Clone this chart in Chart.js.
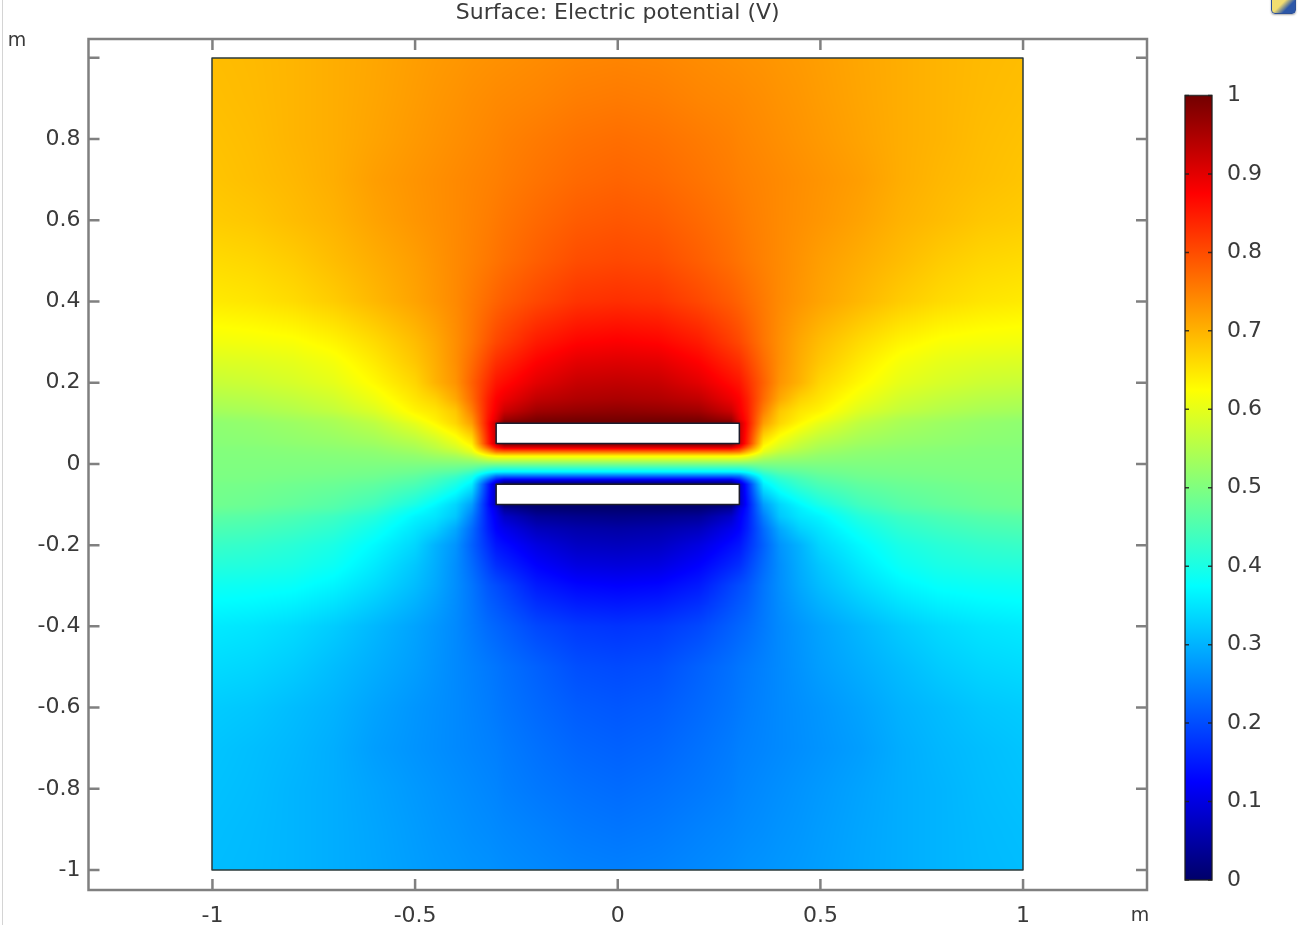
<!DOCTYPE html>
<html><head><meta charset="utf-8">
<style>
html,body{margin:0;padding:0;background:#fff;width:1307px;height:925px;overflow:hidden}
#main{position:absolute;left:0;top:0}
#bar{position:absolute;left:1150px;top:0}
#edge{position:absolute;left:2px;top:0;width:1px;height:925px;background:#d4d4d4}
#icon{position:absolute;left:1271px;top:-6px;width:23px;height:18px;border-radius:4px;background:linear-gradient(135deg,#f2dd70 0%,#f2dd70 45%,#2c57a8 70%);border:1px solid #2c4f96;box-shadow:0 1px 2px #aaa}
</style>
<script src="https://cdn.jsdelivr.net/npm/chart.js@4"></script>
</head><body>
<div id="edge"></div><div id="icon"></div>
<canvas id="main" width="1307" height="925"></canvas>
<canvas id="bar" width="157" height="925"></canvas>
<script>
const titleText = 'Surface: Electric potential (V)';
const unitLabel = 'm';
const xTicks = [-1,-0.5,0,0.5,1];
const yTicks = [-1,-0.8,-0.6,-0.4,-0.2,0,0.2,0.4,0.6,0.8];
const frameTicksY = [-1,-0.8,-0.6,-0.4,-0.2,0,0.2,0.4,0.6,0.8,1];
const barTicks = [0,0.1,0.2,0.3,0.4,0.5,0.6,0.7,0.8,0.9,1];
// sampled |x| positions (the picture is mirror-symmetric about x = 0)
const gridX = [0,0.1,0.2,0.28,0.3,0.32,0.36,0.4,0.45,0.5,0.6,0.7,0.8,0.9,1];
const gridYUpper = [1,0.9,0.8,0.7,0.6,0.5,0.4,0.3,0.25,0.2,0.16,0.13,0.11,0.1,0.05,0.04,0.03,0.02,0.01,0];
const potentialUpper = [
[.745,.743,.738,.734,.733,.732,.73,.727,.724,.72,.712,.705,.698,.693,.69],
[.755,.752,.745,.741,.74,.738,.735,.731,.727,.722,.713,.705,.698,.692,.688],
[.767,.763,.755,.748,.745,.743,.739,.735,.73,.725,.715,.705,.698,.69,.685],
[.777,.772,.762,.753,.75,.748,.744,.74,.735,.73,.72,.705,.695,.688,.682],
[.79,.785,.772,.76,.756,.752,.746,.74,.734,.728,.715,.70,.69,.68,.675],
[.805,.80,.783,.767,.762,.757,.748,.74,.73,.72,.705,.69,.675,.665,.66],
[.83,.825,.805,.785,.778,.77,.755,.74,.727,.715,.695,.675,.66,.65,.645],
[.878,.872,.85,.815,.805,.79,.76,.735,.71,.69,.66,.635,.62,.615,.612],
[.905,.9,.875,.84,.83,.81,.77,.735,.705,.68,.645,.615,.60,.593,.59],
[.93,.925,.90,.865,.855,.83,.78,.73,.70,.665,.63,.60,.585,.575,.57],
[.95,.945,.93,.89,.875,.845,.77,.71,.67,.65,.61,.58,.565,.555,.55],
[.975,.97,.96,.92,.885,.85,.75,.68,.65,.635,.59,.565,.55,.54,.535],
[.995,.995,.99,.96,.90,.855,.73,.67,.64,.615,.57,.545,.535,.525,.52],
[1,1,1,1,.93,.86,.72,.665,.63,.60,.56,.54,.528,.52,.515],
[1,1,1,1,.93,.84,.64,.60,.57,.55,.53,.52,.515,.51,.508],
[.90,.90,.90,.90,.86,.78,.62,.585,.56,.54,.522,.515,.51,.506,.505],
[.77,.77,.77,.77,.76,.70,.60,.565,.545,.53,.515,.51,.507,.504,.503],
[.64,.64,.64,.64,.635,.62,.565,.54,.53,.518,.51,.506,.504,.503,.502],
[.57,.57,.57,.57,.57,.56,.53,.52,.515,.51,.505,.503,.502,.501,.501],
[.5,.5,.5,.5,.5,.5,.5,.5,.5,.5,.5,.5,.5,.5,.5]
];
const gridYLower = [-0.01,-0.02,-0.03,-0.04,-0.05,-0.1,-0.11,-0.13,-0.16,-0.2,-0.25,-0.3,-0.4,-0.5,-0.6,-0.7,-0.8,-0.9,-1];
const potentialLower = [
[.43,.43,.43,.43,.43,.44,.47,.48,.485,.49,.495,.497,.498,.499,.499],
[.36,.36,.36,.36,.365,.38,.435,.46,.47,.482,.49,.494,.496,.497,.498],
[.23,.23,.23,.23,.24,.30,.40,.435,.455,.47,.485,.49,.493,.496,.497],
[.10,.10,.10,.10,.14,.22,.38,.415,.44,.46,.478,.485,.49,.494,.495],
[0,0,0,0,.07,.16,.36,.40,.43,.45,.47,.48,.485,.49,.492],
[0,0,0,0,.07,.14,.28,.335,.37,.40,.44,.46,.472,.48,.485],
[.005,.005,.01,.04,.10,.145,.27,.33,.36,.385,.43,.455,.465,.475,.48],
[.025,.03,.04,.08,.115,.15,.25,.32,.35,.365,.41,.435,.45,.46,.465],
[.05,.055,.07,.11,.125,.155,.23,.29,.33,.35,.39,.42,.435,.445,.45],
[.07,.075,.10,.135,.145,.17,.22,.27,.30,.335,.37,.40,.415,.425,.43],
[.095,.10,.125,.16,.17,.19,.23,.265,.295,.32,.355,.385,.40,.407,.41],
[.125,.13,.15,.19,.20,.21,.24,.265,.29,.31,.34,.365,.38,.385,.388],
[.175,.18,.195,.218,.224,.23,.245,.26,.273,.285,.305,.325,.34,.35,.355],
[.197,.202,.22,.235,.24,.244,.252,.26,.27,.28,.295,.31,.325,.335,.34],
[.21,.215,.228,.24,.244,.248,.254,.26,.266,.272,.285,.30,.31,.32,.325],
[.22,.225,.236,.246,.25,.252,.256,.26,.265,.27,.28,.295,.305,.312,.318],
[.23,.235,.243,.251,.255,.257,.261,.265,.27,.275,.285,.295,.302,.31,.315],
[.24,.244,.252,.258,.26,.262,.265,.269,.273,.278,.287,.295,.302,.308,.312],
[.25,.253,.259,.264,.266,.268,.27,.273,.276,.28,.288,.295,.302,.307,.31]
];
const plateXs = [-0.3,0.3];
const plateTopYs = [0.05,0.1];
const plateBottomYs = [-0.1,-0.05];
const colorStops = [0,0.125,0.375,0.625,0.875,1];
const colorReds = [0,0,0,255,255,115];
const colorGreens = [0,0,255,255,0,0];
const colorBlues = [105,255,255,0,0,0];

const gridY = gridYUpper.concat(gridYLower);
const potential = potentialUpper.concat(potentialLower);
const INK = '#3a3a3a', FRAME = '#808080', FONT = '"DejaVu Sans"', FS = 22;

function colorOf(v){
  let i = 0;
  while(i < colorStops.length-2 && v > colorStops[i+1]) i++;
  const t = Math.max(0,Math.min(1,(v-colorStops[i])/(colorStops[i+1]-colorStops[i])));
  return [colorReds[i]+(colorReds[i+1]-colorReds[i])*t,
          colorGreens[i]+(colorGreens[i+1]-colorGreens[i])*t,
          colorBlues[i]+(colorBlues[i+1]-colorBlues[i])*t];
}
function valueAt(ax, y){
  let c = 0; while(c < gridX.length-2 && ax > gridX[c+1]) c++;
  let r = 0; while(r < gridY.length-2 && y < gridY[r+1]) r++;
  const tx = Math.max(0,Math.min(1,(ax-gridX[c])/(gridX[c+1]-gridX[c])));
  const ty = Math.max(0,Math.min(1,(y-gridY[r])/(gridY[r+1]-gridY[r])));
  const a = potential[r][c]+(potential[r][c+1]-potential[r][c])*tx;
  const b = potential[r+1][c]+(potential[r+1][c+1]-potential[r+1][c])*tx;
  return a+(b-a)*ty;
}
const samplePoints = [];
gridY.forEach((y,r)=>gridX.forEach((x,c)=>{
  samplePoints.push({x:x,y:y,v:potential[r][c]});
  if(x>0) samplePoints.push({x:-x,y:y,v:potential[r][c]});
}));

const fieldPlugin = {
  id:'field',
  beforeDatasetsDraw(chart){
    const {ctx, scales:{x,y}} = chart;
    const L = Math.round(x.getPixelForValue(-1)), R = Math.round(x.getPixelForValue(1));
    const T = Math.round(y.getPixelForValue(1)), B = Math.round(y.getPixelForValue(-1));
    const W = R-L, H = B-T;
    const off = document.createElement('canvas'); off.width=W; off.height=H;
    const oc = off.getContext('2d'); const img = oc.createImageData(W,H);
    for(let j=0;j<H;j++){
      const yv = y.getValueForPixel(T+j+0.5);
      for(let i=0;i<W;i++){
        const xv = Math.abs(x.getValueForPixel(L+i+0.5));
        const col = colorOf(valueAt(xv,yv)); const k=(j*W+i)*4;
        img.data[k]=col[0]; img.data[k+1]=col[1]; img.data[k+2]=col[2]; img.data[k+3]=255;
      }
    }
    oc.putImageData(img,0,0);
    ctx.drawImage(off,L,T);
    ctx.save();
    ctx.strokeStyle='#2b3a3a'; ctx.lineWidth=1.5; ctx.lineJoin='round';
    ctx.strokeRect(L,T,W,H);
    ctx.fillStyle='#ffffff'; ctx.strokeStyle='#1c1c2c';
    [plateTopYs,plateBottomYs].forEach(ys=>{
      const px=x.getPixelForValue(plateXs[0]), qx=x.getPixelForValue(plateXs[1]);
      const py=y.getPixelForValue(ys[1]), qy=y.getPixelForValue(ys[0]);
      ctx.fillRect(px,py,qx-px,qy-py); ctx.strokeRect(px,py,qx-px,qy-py);
    });
    ctx.restore();
  },
  afterDraw(chart){
    const {ctx, chartArea:a, scales:{x,y}} = chart;
    ctx.save();
    ctx.strokeStyle=FRAME; ctx.lineWidth=2.5;
    const tk=11;
    ctx.beginPath();
    xTicks.forEach(v=>{const p=x.getPixelForValue(v);
      ctx.moveTo(p,a.top);ctx.lineTo(p,a.top+tk);ctx.moveTo(p,a.bottom);ctx.lineTo(p,a.bottom-tk);});
    frameTicksY.forEach(v=>{const p=y.getPixelForValue(v);
      ctx.moveTo(a.left,p);ctx.lineTo(a.left+tk,p);ctx.moveTo(a.right,p);ctx.lineTo(a.right-tk,p);});
    ctx.stroke();
    ctx.lineWidth=2.5;
    ctx.strokeRect(a.left,a.top,a.right-a.left,a.bottom-a.top);
    ctx.fillStyle=INK; ctx.font=`19px ${FONT}`; ctx.textBaseline='middle';ctx.textAlign='center';
    ctx.fillText(unitLabel,17,41);
    ctx.fillText(unitLabel,1140,916);
    ctx.restore();
  }
};

new Chart(document.getElementById('main'),{
  type:'scatter',
  data:{datasets:[{label:'Electric potential (V)',data:samplePoints,pointRadius:0,pointHoverRadius:0,showLine:false}]},
  plugins:[fieldPlugin],
  options:{
    responsive:false,animation:false,
    layout:{padding:{left:0,right:160,top:0,bottom:0}},
    plugins:{legend:{display:false},tooltip:{enabled:false},
      title:{display:true,text:titleText,fullSize:false,color:INK,font:{family:FONT,size:FS,weight:'normal'},padding:{top:0,bottom:12.6}}},
    scales:{
      x:{type:'linear',min:-1.3058,max:1.3058,
        afterBuildTicks:s=>{s.ticks=xTicks.map(v=>({value:v}));},
        afterFit:s=>{s.height=35;},
        grid:{display:false,drawTicks:false},border:{display:false},
        ticks:{color:INK,font:{family:FONT,size:FS},padding:13,maxRotation:0,autoSkip:false,callback:v=>String(v)}},
      y:{type:'linear',min:-1.0492,max:1.0463,
        afterBuildTicks:s=>{s.ticks=yTicks.map(v=>({value:v}));},
        afterFit:s=>{s.width=88.5;},
        grid:{display:false,drawTicks:false},border:{display:false},
        ticks:{color:INK,font:{family:FONT,size:FS},padding:8,autoSkip:false,callback:v=>String(v)}}
    }
  }
});

const barPlugin = {
  id:'barTicks',
  afterDatasetsDraw(chart){
    const {ctx, chartArea:a, scales:{y}} = chart;
    ctx.save(); ctx.strokeStyle='rgba(30,30,30,.85)'; ctx.lineWidth=1.5;
    ctx.strokeRect(a.left,y.getPixelForValue(1),a.right-a.left,y.getPixelForValue(0)-y.getPixelForValue(1));
    ctx.beginPath();
    barTicks.forEach(v=>{const p=y.getPixelForValue(v);
      ctx.moveTo(a.left,p);ctx.lineTo(a.left+4,p);ctx.moveTo(a.right,p);ctx.lineTo(a.right-4,p);});
    ctx.stroke(); ctx.restore();
  }
};
new Chart(document.getElementById('bar'),{
  type:'bar',
  data:{labels:['V'],datasets:[{data:[[0,1]],barPercentage:1,categoryPercentage:1,borderWidth:0,
    backgroundColor:c=>{
      const s=c.chart.scales.y; if(!s) return '#888';
      const p0=s.getPixelForValue(0), p1=s.getPixelForValue(1);
      if(!Number.isFinite(p0)||!Number.isFinite(p1)) return '#888';
      const g=c.chart.ctx.createLinearGradient(0,p0,0,p1);
      colorStops.forEach(v=>{const q=colorOf(v);g.addColorStop(v,`rgb(${q[0]},${q[1]},${q[2]})`);});
      return g;
    }}]},
  plugins:[barPlugin],
  options:{
    responsive:false,animation:false,
    layout:{padding:{left:35,right:0,top:95.5,bottom:45}},
    plugins:{legend:{display:false},tooltip:{enabled:false},title:{display:false}},
    scales:{
      x:{display:false},
      y:{position:'right',min:0,max:1,
        afterBuildTicks:s=>{s.ticks=barTicks.map(v=>({value:v}));},
        afterFit:s=>{s.width=95;},
        grid:{display:false,drawTicks:false},border:{display:false},
        ticks:{color:INK,font:{family:FONT,size:FS},padding:15,autoSkip:false,callback:v=>String(v)}}
    }
  }
});
</script>
</body></html>
